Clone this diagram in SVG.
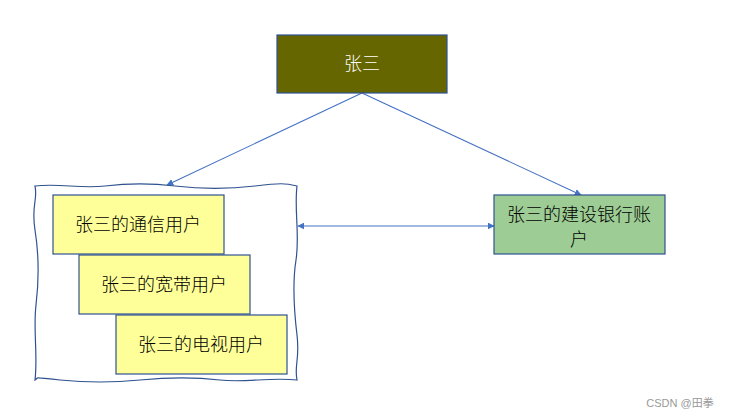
<svg xmlns="http://www.w3.org/2000/svg" width="729" height="417" viewBox="0 0 729 417">
<defs>
<style>
.t{font-family:"Liberation Sans","Noto Sans CJK SC",sans-serif;font-size:18px;font-weight:300;fill:#000;text-anchor:middle}
.y{fill:#FFFF99;stroke:#2F528F;stroke-width:1.2}
.c{stroke:#4472C4;stroke-width:1.1;fill:none}
</style>
<marker id="ah" viewBox="0 0 10 10" refX="9" refY="5" markerWidth="7" markerHeight="7" orient="auto-start-reverse" markerUnits="userSpaceOnUse">
<path d="M0,0 L10,5 L0,10 z" fill="#4472C4"/>
</marker>
</defs>
<rect width="729" height="417" fill="#fff"/>
<g id="connectors">
<line class="c" x1="362" y1="93" x2="167" y2="185" marker-end="url(#ah)"/>
<line class="c" x1="362" y1="93" x2="581" y2="195" marker-end="url(#ah)"/>
<line class="c" x1="298" y1="226" x2="494" y2="226" marker-start="url(#ah)" marker-end="url(#ah)"/>
</g>
<g id="zhangsan">
<rect x="277" y="35" width="170" height="58" fill="#666600" stroke="#2F528F" stroke-width="1.2"/>
<text class="t" x="362" y="70" style="fill:#fff">张三</text>
</g>
<g id="group-box">
<path d="M35,186 C60,183 80,189 105,186 S150,183 175,186 S230,189 255,186 S285,183 297,186 C294,210 300,235 296,260 S294,310 297,335 S294,365 297,380 C270,377 245,383 220,380 S170,377 140,380 S90,383 60,380 S40,377 35,380 C38,355 33,330 36,305 S39,255 35,230 S38,200 35,186 Z" fill="#fff" stroke="#2F528F" stroke-width="1.2"/>
</g>
<g id="telecom">
<rect class="y" x="53" y="195" width="171" height="59"/>
<text class="t" x="138" y="231">张三的通信用户</text>
</g>
<g id="broadband">
<rect class="y" x="79" y="255" width="171" height="59"/>
<text class="t" x="164" y="291">张三的宽带用户</text>
</g>
<g id="tv">
<rect class="y" x="116" y="315" width="171" height="59"/>
<text class="t" x="201" y="351">张三的电视用户</text>
</g>
<g id="bank">
<rect x="494" y="195" width="171" height="59" fill="#9DCC94" stroke="#2F528F" stroke-width="1.2"/>
<text class="t" x="579" y="221">张三的建设银行账</text>
<text class="t" x="579" y="246">户</text>
</g>
<text x="680" y="407" style="font-family:'Liberation Sans','Noto Sans CJK SC',sans-serif;font-size:11px;fill:#999;text-anchor:middle">CSDN @田拳</text>
</svg>
